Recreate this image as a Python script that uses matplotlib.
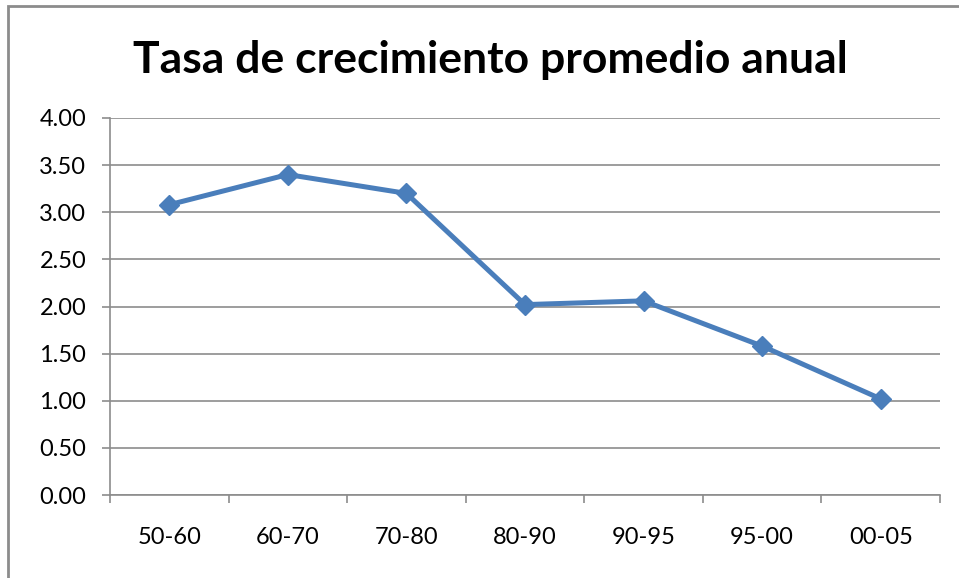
import matplotlib.pyplot as plt
import matplotlib.patches as patches

# datos
periodos = ['50-60', '60-70', '70-80', '80-90', '90-95', '95-00', '00-05']
tasa = [3.08, 3.40, 3.20, 2.02, 2.06, 1.58, 1.02]
yticks = [0.0, 0.5, 1.0, 1.5, 2.0, 2.5, 3.0, 3.5, 4.0]

plt.rcParams['font.family'] = ['Lato', 'DejaVu Sans']

W, H = 959, 578
fig = plt.figure(figsize=(W / 100, H / 100), dpi=100)

# marco exterior del grafico (solo bordes izquierdo y superior visibles)
fig.patches.append(patches.Rectangle((8 / W, -1), 2, 1 + (H - 6) / H,
                                     transform=fig.transFigure, fill=False,
                                     edgecolor='#8c8c8c', linewidth=2))

ax = fig.add_axes([110 / W, (H - 495) / H, 830 / W, 377 / H])
x = range(len(periodos))
ax.plot(x, tasa, color='#4a7ebb', linewidth=3.6, marker='D', markersize=10.5,
        markeredgecolor='#4a7ebb', markerfacecolor='#4a7ebb', zorder=3)

ax.set_xlim(-0.5, len(periodos) - 0.5)
ax.set_ylim(0, 4)
ax.set_yticks(yticks)
ax.set_yticklabels(['%.2f' % v for v in yticks])
ax.set_xticks(list(x))
ax.set_xticklabels(periodos)
ax.set_xticks([i - 0.5 for i in range(len(periodos) + 1)], minor=True)

ax.grid(axis='y', color='#8c8c8c', linewidth=1.2)
ax.set_axisbelow(True)
for s in ['top', 'right']:
    ax.spines[s].set_visible(False)
for s in ['left', 'bottom']:
    ax.spines[s].set_color('#8c8c8c')
    ax.spines[s].set_linewidth(1.2)

ax.tick_params(axis='x', which='major', length=0, pad=23, labelsize=17)
ax.tick_params(axis='x', which='minor', length=6, color='#8c8c8c', width=1.2)
ax.tick_params(axis='y', length=6, color='#8c8c8c', width=1.2, pad=11, labelsize=17)

fig.text(490 / W, 1 - 60 / H, 'Tasa de crecimiento promedio anual',
         ha='center', va='center', fontsize=32, fontweight='bold')

fig.savefig('out.png', dpi=100)
